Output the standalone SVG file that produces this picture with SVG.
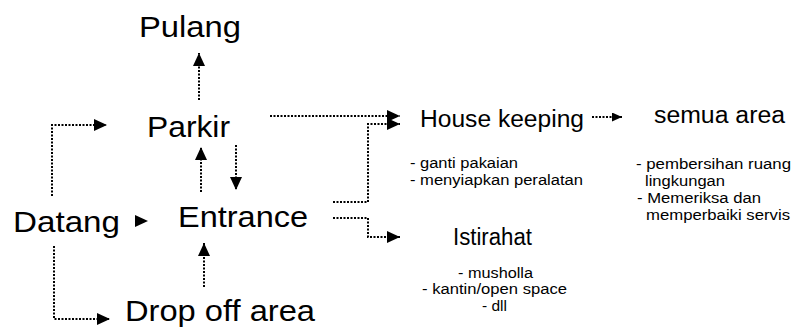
<svg xmlns="http://www.w3.org/2000/svg" width="793" height="331" viewBox="0 0 793 331">
  <style>
    .big { font-family: "Liberation Sans", Arial, sans-serif; font-size: 30px; fill: #000; }
    .mid { font-family: "Liberation Sans", Arial, sans-serif; font-size: 23px; fill: #000; }
    .note { font-family: "Liberation Sans", Arial, sans-serif; font-size: 15.5px; fill: #000; }
    .dot { fill: none; stroke: #000; stroke-width: 2; stroke-dasharray: 2 1.5; }
    .dot-end { marker-end: url(#head); }
    .dot-small { marker-end: url(#head-small); }
  </style>
  <defs>
    <marker id="head" viewBox="0 0 13 12" refX="13" refY="6" markerWidth="13" markerHeight="12" markerUnits="userSpaceOnUse" orient="auto">
      <path d="M0,0 L13,6 L0,12 Z" fill="#000"/>
    </marker>
    <marker id="head-small" viewBox="0 0 10 9" refX="10" refY="4.5" markerWidth="10" markerHeight="9" markerUnits="userSpaceOnUse" orient="auto">
      <path d="M0,0 L10,4.5 L0,9 Z" fill="#000"/>
    </marker>
  </defs>
  <rect width="793" height="331" fill="#fff"/>

  <g id="connectors">
    <path class="dot dot-end" d="M52,196 V125 H107"/>
    <path class="dot dot-end" d="M54,246 V319 H110"/>
    <path class="dot dot-end" d="M201,192 V147"/>
    <path class="dot dot-end" d="M236,145 V190"/>
    <path class="dot dot-end" d="M199,100 V53"/>
    <path class="dot dot-end" d="M204,287 V243"/>
    <path d="M138,221 H148" fill="none" stroke="none" marker-end="url(#head)"/>
    <path class="dot dot-end" d="M270,116 H400"/>
    <path class="dot dot-end" d="M333,202 H368 V124 H400"/>
    <path class="dot dot-end" d="M333,218 H368 V237 H400"/>
    <path class="dot dot-small" d="M592,117 H622"/>
  </g>

  <g id="pulang"><text class="big" x="139" y="37" textLength="102" lengthAdjust="spacingAndGlyphs">Pulang</text></g>
  <g id="parkir"><text class="big" x="147" y="137" textLength="83" lengthAdjust="spacingAndGlyphs">Parkir</text></g>
  <g id="datang"><text class="big" x="13" y="232" textLength="107" lengthAdjust="spacingAndGlyphs">Datang</text></g>
  <g id="entrance"><text class="big" x="178" y="227" textLength="130" lengthAdjust="spacingAndGlyphs">Entrance</text></g>
  <g id="drop-off"><text class="big" x="125" y="321" textLength="190" lengthAdjust="spacingAndGlyphs">Drop off area</text></g>

  <g id="house-keeping">
    <text class="mid" x="420" y="127" textLength="164" lengthAdjust="spacingAndGlyphs">House keeping</text>
    <text class="note" x="410" y="168" textLength="108" lengthAdjust="spacingAndGlyphs">- ganti pakaian</text>
    <text class="note" x="410" y="185" textLength="173" lengthAdjust="spacingAndGlyphs">- menyiapkan peralatan</text>
  </g>

  <g id="semua-area">
    <text class="mid" x="654" y="123" textLength="131" lengthAdjust="spacingAndGlyphs">semua area</text>
    <text class="note" x="636" y="169" textLength="155" lengthAdjust="spacingAndGlyphs">- pembersihan ruang</text>
    <text class="note" x="645" y="186" textLength="80" lengthAdjust="spacingAndGlyphs">lingkungan</text>
    <text class="note" x="637" y="203" textLength="124" lengthAdjust="spacingAndGlyphs">- Memeriksa dan</text>
    <text class="note" x="646" y="220" textLength="144" lengthAdjust="spacingAndGlyphs">memperbaiki servis</text>
  </g>

  <g id="istirahat">
    <text class="mid" x="453" y="245" textLength="79" lengthAdjust="spacingAndGlyphs">Istirahat</text>
    <text class="note" x="458" y="278" textLength="75" lengthAdjust="spacingAndGlyphs">- musholla</text>
    <text class="note" x="422" y="294" textLength="145" lengthAdjust="spacingAndGlyphs">- kantin/open space</text>
    <text class="note" x="482" y="311" textLength="25" lengthAdjust="spacingAndGlyphs">- dll</text>
  </g>
</svg>
